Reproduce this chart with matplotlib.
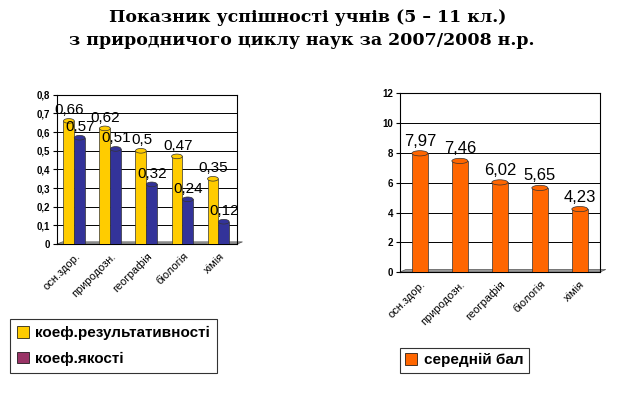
import numpy as np
import matplotlib.pyplot as plt
from matplotlib.patches import Ellipse, Patch, Polygon

# Data
subjects = ['осн.здор.', 'природозн.', 'географія', 'біологія', 'хімія']
koef_rez = [0.66, 0.62, 0.5, 0.47, 0.35]     # коеф.результативності
koef_yak = [0.57, 0.51, 0.32, 0.24, 0.12]    # коеф.якості
ser_bal = [7.97, 7.46, 6.02, 5.65, 4.23]     # середній бал

left_ticks = [0, 0.1, 0.2, 0.3, 0.4, 0.5, 0.6, 0.7, 0.8]
right_ticks = [0, 2, 4, 6, 8, 10, 12]

yellow = '#FFCC00'
blue = '#333399'
purple = '#993366'
orange = '#FF6600'

plt.rcParams['font.family'] = ['Liberation Sans', 'DejaVu Sans']

fig = plt.figure(figsize=(6.19, 3.95), dpi=100)

fig.text(0.497, 0.955, 'Показник успішності учнів (5 – 11 кл.)', ha='center', va='center',
         family='DejaVu Serif', fontweight='bold', fontsize=12.5)
fig.text(0.487, 0.897, 'з природничого циклу наук за 2007/2008 н.р.', ha='center', va='center',
         family='DejaVu Serif', fontweight='bold', fontsize=12.5)


def cyl_bars(ax, xs, vals, w, color, cap_h):
    # bars with an elliptic cap to look like Excel cylinders
    ax.bar(xs, vals, w, color=color, edgecolor='#333333', linewidth=0.5, zorder=3)
    for x, v in zip(xs, vals):
        ax.add_patch(Ellipse((x, v), w, cap_h, facecolor=color, edgecolor='#333333',
                             linewidth=0.5, zorder=4))
        ax.add_patch(Ellipse((x, 0), w, cap_h, facecolor=color, edgecolor='none', zorder=2))


def style_axes(ax, ticks, labels):
    ax.set_xlim(-0.5, len(subjects) - 0.5)
    ax.set_ylim(ticks[0], ticks[-1])
    ax.set_yticks(ticks)
    ax.set_yticklabels(labels, fontsize=7, fontweight='bold')
    ax.yaxis.grid(True, color='black', linewidth=0.7, zorder=0)
    ax.set_axisbelow(True)
    ax.set_xticks(np.arange(len(subjects)))
    ax.set_xticklabels(subjects, rotation=45, ha='right', rotation_mode='anchor', fontsize=8)
    ax.tick_params(axis='x', length=0, pad=5)
    ax.tick_params(axis='y', length=3, pad=2)
    for s in ax.spines.values():
        s.set_color('black')
        s.set_linewidth(0.8)
    # grey floor
    ax.add_patch(Polygon([[0.0, 0.0], [1.0, 0.0], [1.03, 0.015], [0.03, 0.015]],
                         closed=True, transform=ax.transAxes, facecolor='#999999',
                         edgecolor='#555555', linewidth=0.5, clip_on=False, zorder=1))


# Left chart
ax1 = fig.add_axes([0.092, 0.382, 0.291, 0.378])
x = np.arange(len(subjects))
w = 0.3
cyl_bars(ax1, x - 0.17, koef_rez, w, yellow, 0.025)
cyl_bars(ax1, x + 0.13, koef_yak, w, blue, 0.025)
style_axes(ax1, left_ticks, ['0'] + [f'{t:.1f}'.replace('.', ',') for t in left_ticks[1:]])
for xi, v in zip(x - 0.17, koef_rez):
    ax1.text(xi + 0.02, v + 0.02, f'{v:g}'.replace('.', ','), ha='center', va='bottom', fontsize=11, zorder=5)
for xi, v in zip(x + 0.13, koef_yak):
    ax1.text(xi + 0.02, v + 0.02, f'{v:g}'.replace('.', ','), ha='center', va='bottom', fontsize=11, zorder=5)

leg1 = fig.legend(handles=[Patch(facecolor=yellow, edgecolor='black', linewidth=0.5),
                           Patch(facecolor=purple, edgecolor='black', linewidth=0.5)],
                  labels=['коеф.результативності', 'коеф.якості'],
                  loc='upper left', bbox_to_anchor=(0.016, 0.192),
                  frameon=True, fancybox=False, edgecolor='black', handlelength=0.8, handleheight=0.8,
                  handletextpad=0.4, borderpad=0.45, labelspacing=0.75, borderaxespad=0,
                  prop={'weight': 'bold', 'size': 11})
leg1.get_frame().set_linewidth(0.8)

# Right chart
ax2 = fig.add_axes([0.646, 0.311, 0.323, 0.453])
cyl_bars(ax2, x, ser_bal, 0.4, orange, 0.35)
style_axes(ax2, right_ticks, [str(t) for t in right_ticks])
for xi, v in zip(x, ser_bal):
    ax2.text(xi, v + 0.3, f'{v:.2f}'.replace('.', ','), ha='center', va='bottom', fontsize=12, zorder=5)

leg2 = fig.legend(handles=[Patch(facecolor=orange, edgecolor='black', linewidth=0.5)],
                  labels=['середній бал'], loc='upper left', bbox_to_anchor=(0.646, 0.119),
                  frameon=True, fancybox=False, edgecolor='black', handlelength=0.8, handleheight=0.8,
                  handletextpad=0.4, borderpad=0.35, borderaxespad=0,
                  prop={'weight': 'bold', 'size': 11})
leg2.get_frame().set_linewidth(0.8)

fig.savefig('out.png', dpi=100)
